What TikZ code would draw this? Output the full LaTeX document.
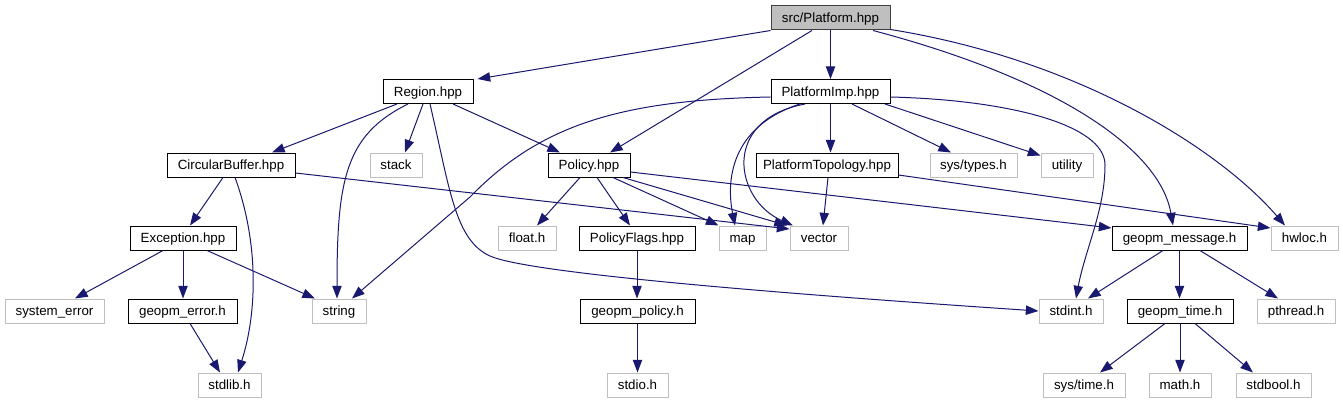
\documentclass[tikz,border=0pt]{standalone}
\usepackage{fontspec}
\setmainfont{Liberation Sans}
\usetikzlibrary{arrows.meta,calc}
\definecolor{edgeblue}{HTML}{191970}
\definecolor{sysgray}{HTML}{BFBFBF}
\begin{document}
\begin{tikzpicture}[x=0.75pt,y=-0.75pt,
  nd/.style={line width=0.75pt, minimum height=18pt, inner sep=0pt,
    text height=7.2pt, text depth=0pt, font=\fontsize{10}{12}\selectfont, anchor=center},
  doc/.style={nd, draw=black},
  sys/.style={nd, draw=sysgray},
  bw/.style={minimum width=#1*0.75pt},
  dep/.style={draw=edgeblue, line width=0.75pt, -{Triangle[length=9.5pt,width=7pt]}}]
\useasboundingbox[fill=white] (0,0) rectangle (1343,403);
% row 1
\node[doc, fill=sysgray, draw=black!75, bw=119] (platform) at (830.5,18) {src/Platform.hpp};
% row 2
\node[doc, bw=90] (region) at (428,91.5) {Region.hpp};
\node[doc, bw=119] (pimp) at (830.5,91.5) {PlatformImp.hpp};
% row 3
\node[doc, bw=128] (cbuf) at (231,165) {CircularBuffer.hpp};
\node[sys, bw=52] (stack) at (396,165) {stack};
\node[doc, bw=82] (policy) at (589,165) {Policy.hpp};
\node[doc, bw=142] (ptopo) at (827,165) {PlatformTopology.hpp};
\node[sys, bw=87] (systypes) at (973.5,165) {sys/types.h};
\node[sys, bw=52] (utility) at (1067,165) {utility};
% row 4
\node[doc, bw=106] (exc) at (183,238) {Exception.hpp};
\node[sys, bw=58] (float) at (527,238) {float.h};
\node[doc, bw=116] (pflags) at (637,238) {PolicyFlags.hpp};
\node[sys, bw=47] (map) at (742.5,238) {map};
\node[sys, bw=58] (vector) at (819,238) {vector};
\node[doc, bw=135] (gmsg) at (1179.5,238) {geopm\_message.h};
\node[sys, bw=67] (hwloc) at (1304.5,238) {hwloc.h};
% row 5
\node[sys, bw=99] (syserr) at (54.5,311) {system\_error};
\node[doc, bw=109] (gerr) at (182.5,311) {geopm\_error.h};
\node[sys, bw=54] (string) at (339,311) {string};
\node[doc, bw=115] (gpol) at (637.5,311) {geopm\_policy.h};
\node[sys, bw=64] (stdint) at (1071,311) {stdint.h};
\node[doc, bw=106] (gtime) at (1180,311) {geopm\_time.h};
\node[sys, bw=78] (pthread) at (1296,311) {pthread.h};
% row 6
\node[sys, bw=63] (stdlib) at (229.5,385) {stdlib.h};
\node[sys, bw=61] (stdio) at (637.5,385) {stdio.h};
\node[sys, bw=82] (systime) at (1084,385) {sys/time.h};
\node[sys, bw=62] (math) at (1180,385) {math.h};
\node[sys, bw=75] (stdbool) at (1273.5,385) {stdbool.h};

% Platform.hpp
\draw[dep] (platform.south west) -- ($(region.north east)+(4,0)$);
\draw[dep] ($(platform.south)+(-18.5,0)$) -- ($(policy.north)+(21,0)$);
\draw[dep] (platform.south) -- (pimp.north);
\draw[dep] ($(platform.south)+(42.5,0)$) .. controls (1060,80) and (1160,150) .. ($(gmsg.north)+(-6.5,0)$);
\draw[dep] ($(platform.south east)+(0,-1)$) .. controls (1080,60) and (1220,150) .. ($(hwloc.north)+(-19.5,0)$);
% Region.hpp
\draw[dep] ($(region.south)+(-31,0)$) -- ($(cbuf.north)+(41,0)$);
\draw[dep] ($(region.south)+(-20,0)$) .. controls (345,135) and (337,180) .. ($(string.north)+(-2,0)$);
\draw[dep] ($(region.south)+(-5,0)$) -- ($(stack.north)+(9,0)$);
\draw[dep] ($(region.south)+(2,0)$) .. controls (450,190) and (455,240) .. (490,256) .. controls (530,274) and (800,295) .. (stdint.west);
\draw[dep] ($(region.south)+(25,0)$) -- ($(policy.north)+(-29,0)$);
% PlatformImp.hpp
\draw[dep] ($(pimp.west)+(0,5.5)$) .. controls (620,100) and (540,125) .. (470,197) -- ($(string.north)+(13,0)$);
\draw[dep] ($(pimp.south)+(-30.5,0)$) .. controls (735,125) and (725,175) .. ($(map.north)+(-7.5,0)$);
\draw[dep] ($(pimp.south)+(-25.5,0)$) .. controls (720,120) and (735,200) .. ($(vector.north)+(-26,0)$);
\draw[dep] (pimp.south) -- (pimp.south |- ptopo.north);
\draw[dep] ($(pimp.south)+(21.5,0)$) -- ($(systypes.north)+(-22.5,0)$);
\draw[dep] ($(pimp.south)+(54.5,0)$) -- ($(utility.north west)+(0,3)$);
\draw[dep] ($(pimp.east)+(0,5.5)$) .. controls (1010,100) and (1105,125) .. (1105,165) .. controls (1105,210) and (1085,250) .. ($(stdint.north)+(5,0)$);
% CircularBuffer.hpp
\draw[dep] ($(cbuf.south)+(-8,0)$) -- ($(exc.north)+(7,0)$);
\draw[dep] ($(cbuf.south)+(4,0)$) .. controls (258,240) and (258,310) .. ($(stdlib.north)+(8.5,0)$);
\draw[dep] ($(cbuf.east)+(0,8)$) -- ($(vector.west)+(0,-9)$);
% Policy.hpp
\draw[dep] ($(policy.south)+(-9,0)$) -- ($(float.north)+(10,0)$);
\draw[dep] ($(policy.south)+(8,0)$) -- ($(pflags.north)+(-7,0)$);
\draw[dep] ($(policy.south)+(24,0)$) -- (map.north west);
\draw[dep] ($(policy.south)+(34,0)$) -- ($(vector.north)+(-32,0)$);
\draw[dep] ($(policy.east)+(0,7)$) -- ($(gmsg.west)+(0,-10)$);
% PlatformTopology.hpp
\draw[dep] ($(ptopo.south)+(1,0)$) -- ($(vector.north)+(4,0)$);
\draw[dep] ($(ptopo.east)+(0,10)$) -- ($(hwloc.west)+(0,-10)$);
% Exception.hpp
\draw[dep] ($(exc.south)+(-20,0)$) -- ($(syserr.north)+(20.5,0)$);
\draw[dep] (exc.south) -- (exc.south |- gerr.north);
\draw[dep] ($(exc.south)+(24,0)$) -- ($(string.north)+(-24,0)$);
% geopm_error.h
\draw[dep] ($(gerr.south)+(7.5,0)$) -- ($(stdlib.north)+(-9.5,0)$);
% PolicyFlags / geopm_policy
\draw[dep] (pflags.south) -- (pflags.south |- gpol.north);
\draw[dep] (gpol.south) -- (stdio.north);
% geopm_message.h
\draw[dep] ($(gmsg.south)+(-16.5,0)$) -- ($(stdint.north)+(17,0)$);
\draw[dep] (gmsg.south) -- (gmsg.south |- gtime.north);
\draw[dep] ($(gmsg.south)+(20.5,0)$) -- ($(pthread.north)+(-18,0)$);
% geopm_time.h
\draw[dep] ($(gtime.south)+(-15,0)$) -- ($(systime.north)+(16,0)$);
\draw[dep] (gtime.south) -- (math.north);
\draw[dep] ($(gtime.south)+(15,0)$) -- ($(stdbool.north)+(-20.5,0)$);
\end{tikzpicture}
\end{document}
